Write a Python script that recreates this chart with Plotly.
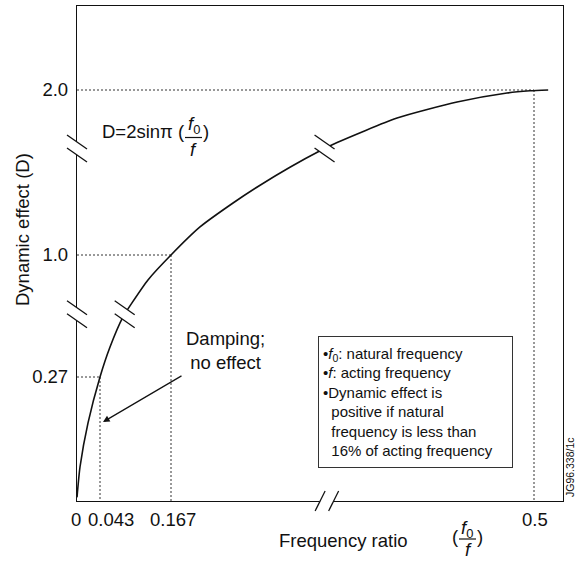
import numpy as np
import plotly.graph_objects as go

# ---------------- data ----------------
ratio_ticks = [0, 0.043, 0.167, 0.5]
ratio_tick_text = ["0", "0.043", "0.167", "0.5"]
d_ticks = [0.27, 1.0, 2.0]
d_tick_text = ["0.27", "1.0", "2.0"]

curve_ratio = [0, 0.0056, 0.0206, 0.043, 0.0605, 0.0832, 0.0988, 0.1268, 0.167,
               0.1936, 0.2239, 0.2487, 0.2761, 0.3038, 0.3194, 0.3744, 0.4294,
               0.4752, 0.4963, 0.513]
curve_d = [0.008, 0.074, 0.17, 0.27, 0.4495, 0.6295, 0.7133, 0.8509, 1.0,
           1.170, 1.315, 1.423, 1.532, 1.632, 1.682, 1.830, 1.927,
           1.982, 1.995, 2.0]

guide_ratio = [0.043, 0.167, 0.5]
guide_d = [0.27, 1.0, 2.0]

x_break_ratio = 0.31
y_break_d = [0.645, 1.645]

# ---------------- broken-axis scale (value -> display units) ----------------
X_KNOTS_VAL = [0, 0.043, 0.167, 0.5, 0.6]
X_KNOTS_DSP = [0, 23, 94, 457, 566]
Y_KNOTS_VAL = [0, 0.27, 1.0, 2.0, 2.6]
Y_KNOTS_DSP = [0, 124, 246, 411, 510]


def xmap(v):
    return np.interp(v, X_KNOTS_VAL, X_KNOTS_DSP)


def ymap(v):
    return np.interp(v, Y_KNOTS_VAL, Y_KNOTS_DSP)


W, H = 577, 561
ML, MR, MT, MB = 77, 14, 6, 60
PW, PH = W - ML - MR, H - MT - MB
FONT = "Liberation Sans, Arial, Helvetica, sans-serif"
INK = "#111111"
FS = 18.5


def PX(sx):  # screen px -> paper x
    return (sx - ML) / PW


def PY(sy):  # screen px -> paper y
    return (H - MB - sy) / PH


def dpx(xd):  # display x -> paper
    return xd / PW


def dpy(yd):
    return yd / PH


fig = go.Figure()

fig.add_trace(go.Scatter(
    x=xmap(curve_ratio), y=ymap(curve_d), mode="lines",
    line=dict(color=INK, width=1.6, shape="spline", smoothing=0.6),
    hoverinfo="skip", showlegend=False))

shapes = []
# dotted guide lines
for r, d in zip(guide_ratio, guide_d):
    xr, yd = float(xmap(r)), float(ymap(d))
    shapes.append(dict(type="line", xref="x", yref="y", x0=0, x1=xr, y0=yd, y1=yd,
                       line=dict(color="#333", width=1, dash="2px,2px"), layer="below"))
    shapes.append(dict(type="line", xref="x", yref="y", x0=xr, x1=xr, y0=yd, y1=0,
                       line=dict(color="#333", width=1, dash="2px,2px"), layer="below"))


def _break(l1, l2):
    pts = [l1[0], l1[1], l2[1], l2[0]]
    path = "M " + " L ".join(f"{dpx(a):.5f},{dpy(b):.5f}" for a, b in pts) + " Z"
    out = [dict(type="path", xref="paper", yref="paper", path=path,
                fillcolor="white", line=dict(width=0), layer="above")]
    for l in (l1, l2):
        out.append(dict(type="line", xref="paper", yref="paper",
                        x0=dpx(l[0][0]), y0=dpy(l[0][1]), x1=dpx(l[1][0]), y1=dpy(l[1][1]),
                        line=dict(color=INK, width=1.3), layer="above"))
    return out


def back_break(xc, yc):
    return _break([(xc - 10, yc + 13.5), (xc + 10, yc - 0.5)],
                  [(xc - 10, yc + 0.5), (xc + 10, yc - 13.5)])


def fwd_break(xc, yc):
    return _break([(xc - 11.75, yc - 10), (xc - 1.75, yc + 10)],
                  [(xc + 1.75, yc - 10), (xc + 11.75, yc + 10)])


for yb in y_break_d:
    yc = float(ymap(yb))
    shapes += back_break(0, yc)
    rb = float(np.interp(yb, curve_d, curve_ratio))
    shapes += back_break(float(xmap(rb)), yc)
shapes += fwd_break(float(xmap(x_break_ratio)), 0)

# fraction bars
shapes.append(dict(type="line", xref="paper", yref="paper", x0=PX(185), x1=PX(202),
                   y0=PY(137.5), y1=PY(137.5), line=dict(color=INK, width=1.2)))
shapes.append(dict(type="line", xref="paper", yref="paper", x0=PX(459), x1=PX(476),
                   y0=PY(539), y1=PY(539), line=dict(color=INK, width=1.2)))

ann = []
TICK_SHIFTS = [-1, 11, 2, 1]
for r, t, s in zip(ratio_ticks, ratio_tick_text, TICK_SHIFTS):
    ann.append(dict(x=float(xmap(r)), y=0, xref="x", yref="paper", text=t,
                    showarrow=False, xanchor="center", yanchor="top", yshift=-6, xshift=s,
                    font=dict(size=FS, color=INK, family=FONT)))


def txt(sx, sy, text, size=FS, xanchor="center", **kw):
    ann.append(dict(x=PX(sx), y=PY(sy), xref="paper", yref="paper", text=text,
                    showarrow=False, xanchor=xanchor, yanchor="middle",
                    font=dict(size=size, color=INK, family=FONT), **kw))


txt(22, 230, "Dynamic effect (D)", textangle=-90)
txt(343, 540, "Frequency ratio")
txt(455, 536, "(")
txt(467, 529, "<i>f</i><sub>0</sub>")
txt(468, 549, "<i>f</i>")
txt(480, 536, ")")

txt(100, 131, "D=2sinπ (", xanchor="left")
txt(194, 125, "<i>f</i><sub>0</sub>")
txt(193, 149, "<i>f</i>")
txt(206, 131, ")")

txt(225, 350, "Damping;<br>no effect")
ann.append(dict(x=PX(103), y=PY(422), xref="paper", yref="paper", text="",
                showarrow=True, ax=80, ay=-47, arrowhead=2, arrowsize=1.1,
                arrowwidth=1.2, arrowcolor=INK, standoff=0))

legend_text = ("•<i>f</i><sub>0</sub>: natural frequency<br>"
               "•<i>f</i>: acting frequency<br>"
               "•Dynamic effect is<br>"
               "\u00a0\u00a0positive if natural<br>"
               "\u00a0\u00a0frequency is less than<br>"
               "\u00a0\u00a016% of acting frequency")
ann.append(dict(x=PX(318), y=PY(402), xref="paper", yref="paper", text=legend_text,
                showarrow=False, xanchor="left", yanchor="middle", align="left",
                valign="middle", width=185, height=122, borderpad=4,
                bordercolor="#333", borderwidth=1, bgcolor="white",
                font=dict(size=15, color=INK, family=FONT)))

txt(570, 467, "JG96.338/1c", size=10.5, textangle=-90)

fig.update_layout(
    width=W, height=H, margin=dict(l=ML, r=MR, t=MT, b=MB),
    paper_bgcolor="white", plot_bgcolor="white",
    showlegend=False, shapes=shapes, annotations=ann,
    xaxis=dict(range=[0, PW], showline=True, mirror=True, linecolor=INK, linewidth=1.3,
               showgrid=False, zeroline=False, showticklabels=False, ticks="",
               fixedrange=True),
    yaxis=dict(range=[0, PH], showline=True, mirror=True, linecolor=INK, linewidth=1.3,
               showgrid=False, zeroline=False, ticks="",
               tickvals=[float(v) for v in ymap(d_ticks)], ticktext=d_tick_text,
               tickfont=dict(size=FS, color=INK, family=FONT), ticklabelstandoff=4,
               fixedrange=True),
)

fig.write_html("out.html", config={"displayModeBar": False},
               post_script="document.body.style.margin='0';")
